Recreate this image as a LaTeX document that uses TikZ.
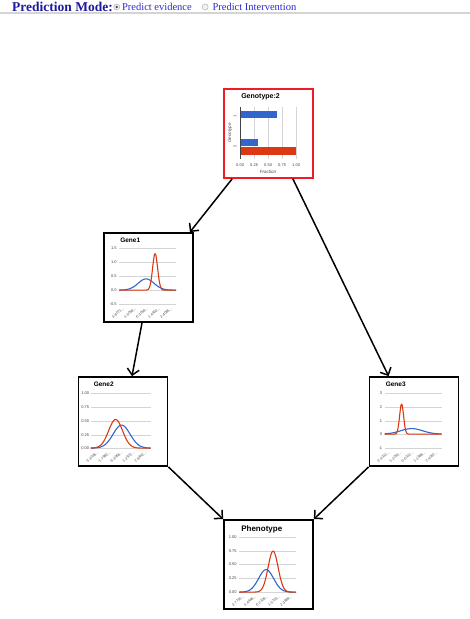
\documentclass[tikz,border=0pt]{standalone}
\usepackage{fontspec}
\setmainfont{Liberation Serif}
\setsansfont{Liberation Sans}
\usetikzlibrary{positioning, arrows.meta}

\definecolor{chartblue}{HTML}{3366CC}
\definecolor{chartred}{HTML}{DC3912}
\definecolor{gridgray}{HTML}{D4D4D4}
\definecolor{tickgray}{HTML}{444444}
\definecolor{modeblue}{HTML}{1B1B9A}
\definecolor{linkblue}{HTML}{2B2BCC}
\definecolor{boxred}{HTML}{EE1C25}

\begin{document}
\begin{tikzpicture}[x=1pt, y=-1pt]
    % Styles
    \tikzset{
        chart/.style={rectangle, draw, line width=1.8pt, fill=white, minimum width=89pt, minimum height=89pt, inner sep=0pt},
        influence/.style={-{Straight Barb[length=6pt, width=12pt]}, line width=1.5pt},
        title_text/.style={font=\sffamily\bfseries\fontsize{6.5}{7}\selectfont, anchor=west, inner sep=0pt},
        tick_text/.style={font=\sffamily\fontsize{4}{4}\selectfont, text=tickgray, inner sep=0.3pt},
        slant_text/.style={tick_text, font=\sffamily\fontsize{3.6}{4}\selectfont, rotate=40, anchor=north east},
        axis_title/.style={font=\sffamily\itshape\fontsize{4.5}{5}\selectfont, text=tickgray, inner sep=0pt},
        grid_line/.style={draw=gridgray, line width=0.5pt},
        curve/.style={line width=1.1pt, line join=round},
        radio/.style={circle, draw=gray!70, fill=gray!10, minimum size=6pt, inner sep=0pt},
        declare function={bump(\t,\m,\s,\h)=\h*exp(max(-0.5*((\t-\m)/\s)*((\t-\m)/\s),-25));}
    }
    \useasboundingbox (0,0) rectangle (470,619);

    % --- Header ---
    \node[font=\bfseries\fontsize{13.5}{14}\selectfont, text=modeblue, anchor=west, inner sep=0pt] (mode) at (12,7) {Prediction Mode:};
    \node[radio, right=0.5pt of mode] (radio_evidence) {};
    \fill[black!70] (radio_evidence) circle (1.3pt);
    \node[font=\fontsize{10.5}{11}\selectfont, text=linkblue, right=2pt of radio_evidence, inner sep=0pt] (evidence) {Predict evidence};
    \node[radio, right=10pt of evidence] (radio_intervention) {};
    \node[font=\fontsize{10.5}{11}\selectfont, text=linkblue, right=4pt of radio_intervention, inner sep=0pt] (intervention) {Predict Intervention};
    \draw[gridgray, line width=1.8pt] (0,13) -- (470,13);

    % --- Nodes ---
    \node[chart, draw=boxred] (genotype) at (268.5,133.5) {};
    \node[chart] (gene1) at (148.5,277.5) {};
    \node[chart] (gene2) at (123,421.5) {};
    \node[chart] (gene3) at (414,421.5) {};
    \node[chart] (phenotype) at (268.5,564.5) {};

    % Genotype: bar chart
    \begin{scope}[shift={(genotype.north west)}]
        \node[title_text, font=\sffamily\bfseries\fontsize{7}{8}\selectfont] (genotype_title) at (18,9) {Genotype:2};
        \foreach \xx/\lab [count=\i] in {17/0.00, 31/0.25, 45/0.50, 59/0.75, 73/1.00} {
            \draw[grid_line] (\xx,19) -- (\xx,71);
            \node[tick_text] (genotype_xtick\i) at (\xx,77) {\lab};
        }
        \fill[chartblue] (17,23) rectangle (53.5,30);
        \fill[chartblue] (17,51) rectangle (35,58);
        \fill[chartred] (17,59) rectangle (73,67);
        \draw[tickgray, line width=0.6pt] (17,19) -- (17,71);
        \node[tick_text, rotate=90] (genotype_cat1) at (12,28) {1};
        \node[tick_text, rotate=90] (genotype_cat2) at (12,58) {2};
        \node[axis_title] (genotype_fraction) at (45,84) {Fraction};
        \node[axis_title, rotate=90] (genotype_axis) at (7,45) {Genotype};
    \end{scope}

    % Gene1
    \begin{scope}[shift={(gene1.north west)}]
        \node[title_text] (gene1_title) at (17,8) {Gene1};
        \foreach \yy/\lab [count=\i] in {16/1.5, 30/1.0, 44/0.5, 58/0.0, 72/-0.5} {
            \draw[grid_line] (16,\yy) -- (73,\yy);
            \node[tick_text, anchor=east] (gene1_ytick\i) at (14,\yy) {\lab};
        }
        \foreach \xx/\lab [count=\i] in {20/-2.8071\dots, 32/-1.0058\dots, 44/-0.3059\dots, 56/1.4802\dots, 68/2.4085\dots} {
            \node[slant_text] (gene1_xtick\i) at (\xx,74) {\lab};
        }
        \draw[curve, chartblue] plot[domain=16:73, samples=80] (\x, {58-bump(\x,43,8,11.2)});
        \draw[curve, chartred] plot[domain=16:73, samples=160] (\x, {58-bump(\x,52,2.5,36.4)});
    \end{scope}

    % Gene2
    \begin{scope}[shift={(gene2.north west)}]
        \node[title_text] (gene2_title) at (16,8) {Gene2};
        \foreach \yy/\lab [count=\i] in {17/1.00, 31/0.75, 45/0.50, 59/0.25, 72/0.00} {
            \draw[grid_line] (13,\yy) -- (73,\yy);
            \node[tick_text, anchor=east] (gene2_ytick\i) at (12,\yy) {\lab};
        }
        \foreach \xx/\lab [count=\i] in {20/-3.3036\dots, 32/-1.7962\dots, 44/-0.3066\dots, 56/1.2972\dots, 68/2.8842\dots} {
            \node[slant_text] (gene2_xtick\i) at (\xx,74) {\lab};
        }
        \draw[curve, chartblue] plot[domain=13:73, samples=80] (\x, {72-bump(\x,44,8.5,23)});
        \draw[curve, chartred] plot[domain=13:73, samples=80] (\x, {72-bump(\x,38,7,28.6)});
    \end{scope}

    % Gene3
    \begin{scope}[shift={(gene3.north west)}]
        \node[title_text] (gene3_title) at (17,8) {Gene3};
        \foreach \yy/\lab [count=\i] in {17/3, 31/2, 45/1, 58/0, 72/-1} {
            \draw[grid_line] (16,\yy) -- (73,\yy);
            \node[tick_text, anchor=east] (gene3_ytick\i) at (14,\yy) {\lab};
        }
        \foreach \xx/\lab [count=\i] in {20/-2.4312\dots, 32/-1.2281\dots, 44/-0.0312\dots, 56/1.1988\dots, 68/2.4087\dots} {
            \node[slant_text] (gene3_xtick\i) at (\xx,74) {\lab};
        }
        \draw[curve, chartblue] plot[domain=16:73, samples=80] (\x, {58-bump(\x,43,11,5.5)});
        \draw[curve, chartred] plot[domain=16:73, samples=160] (\x, {58-bump(\x,33,2,30)});
    \end{scope}

    % Phenotype
    \begin{scope}[shift={(phenotype.north west)}]
        \node[title_text, font=\sffamily\bfseries\fontsize{8}{9}\selectfont] (phenotype_title) at (18,10) {Phenotype};
        \foreach \yy/\lab [count=\i] in {18/1.00, 32/0.75, 45/0.50, 59/0.25, 73/0.00} {
            \draw[grid_line] (16,\yy) -- (73,\yy);
            \node[tick_text, anchor=east] (phenotype_ytick\i) at (14,\yy) {\lab};
        }
        \foreach \xx/\lab [count=\i] in {20/-2.7730\dots, 32/-1.4846\dots, 44/-0.2108\dots, 56/1.0703\dots, 68/2.3889\dots} {
            \node[slant_text] (phenotype_xtick\i) at (\xx,75) {\lab};
        }
        \draw[curve, chartblue] plot[domain=16:73, samples=80] (\x, {73-bump(\x,43,7.5,22.5)});
        \draw[curve, chartred] plot[domain=16:73, samples=100] (\x, {73-bump(\x,50,5,41)});
    \end{scope}

    % --- Connections ---
    \draw[influence] ([xshift=9pt]genotype.south west) -- ([xshift=-4pt]gene1.north east);
    \draw[influence] ([xshift=-21pt]genotype.south east) -- ([xshift=20pt]gene3.north west);
    \draw[influence] ([xshift=-6.5pt]gene1.south) -- ([xshift=9pt]gene2.north);
    \draw[influence] (gene2.south east) -- (phenotype.north west);
    \draw[influence] (gene3.south west) -- (phenotype.north east);

\end{tikzpicture}
\end{document}
